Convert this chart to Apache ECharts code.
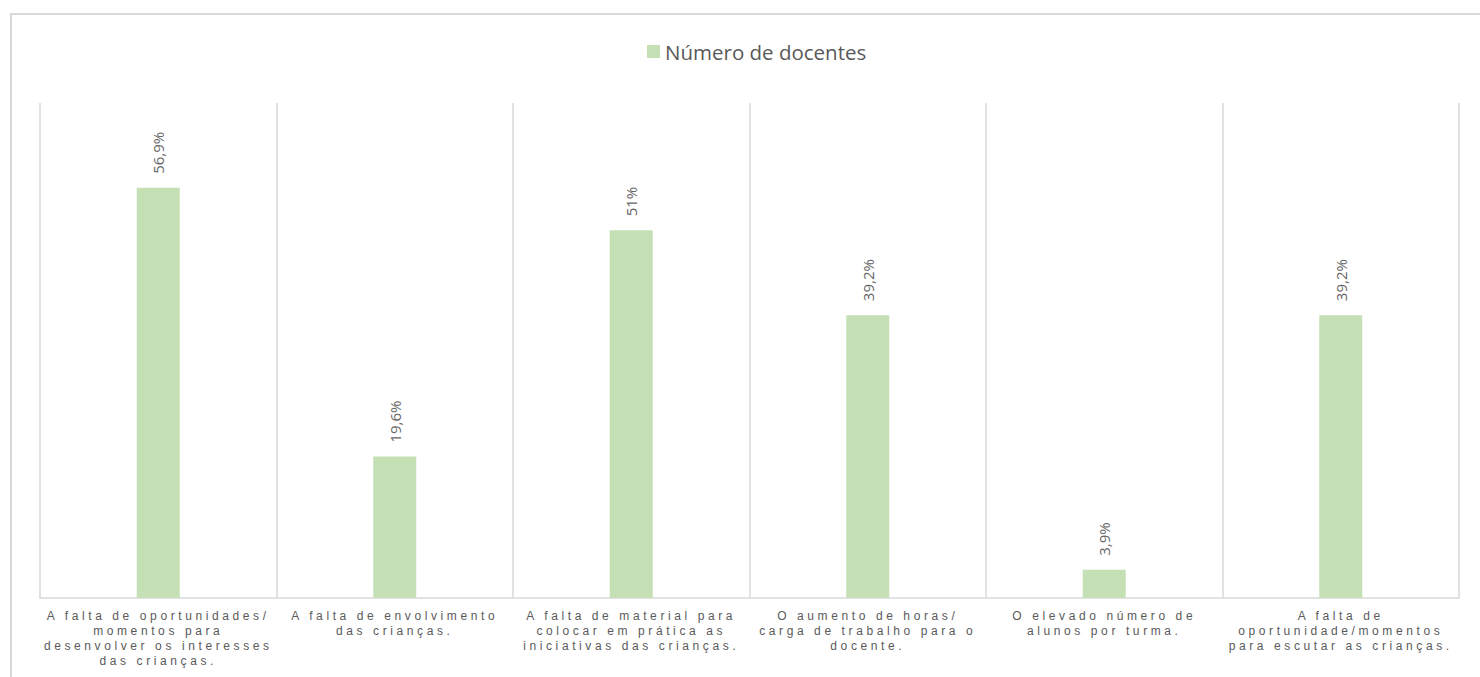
<!DOCTYPE html>
<html>
<head>
<meta charset="utf-8">
<script src="https://cdn.jsdelivr.net/npm/echarts@6/dist/echarts.min.js"></script>
<style>
  html, body { margin: 0; padding: 0; background: #fff; overflow: hidden; }
  .frame {
    position: absolute; left: 10px; top: 13px;
    width: 1500px; height: 700px;
    border: 2px solid #d9d9d9; box-sizing: border-box;
  }
  #chart { position: absolute; left: 0; top: 0; width: 1480px; height: 677px; }
  /* espaçamento entre letras dos rótulos do eixo (como no Excel) */
  #chart text[fill="#5a5a5b"],
  #chart text[fill="rgb(90,90,91)"],
  #chart text[fill="rgb(90, 90, 91)"] { letter-spacing: 3.6px; }
</style>
</head>
<body>
<div class="frame"></div>
<div id="chart"></div>
<script>
  // categorias (quebras de linha como no gráfico original)
  const categorias = [
    'A falta de oportunidades/\nmomentos para\ndesenvolver os interesses\ndas crianças.',
    'A falta de envolvimento\ndas crianças.',
    'A falta de material para\ncolocar em prática as\niniciativas das crianças.',
    'O aumento de horas/\ncarga de trabalho para o\ndocente.',
    'O elevado número de\nalunos por turma.',
    'A falta de\noportunidade/momentos\npara escutar as crianças.'
  ]
  // número de docentes (n = 51)
  const numeroDocentes = [29, 10, 26, 20, 2, 20]
  const rotulosPct = ['56,9%', '19,6%', '51%', '39,2%', '3,9%', '39,2%']

  let myChart = echarts.init(document.getElementById('chart'), null, {renderer: 'svg'})
  let option = {
    animation: false,
    legend: {
      top: 36,
      left: 642,
      icon: 'rect',
      itemWidth: 13,
      itemHeight: 13,
      itemGap: 10,
      textStyle: {
        color: '#595959',
        fontSize: 20.5,
        fontFamily: 'Open Sans',
        padding: [0, 0, 2, 0]
      },
      data: ['Número de docentes']
    },
    grid: {
      left: 40,
      right: 21,
      top: 103,
      bottom: 79
    },
    xAxis: {
      type: 'category',
      data: categorias,
      axisTick: {show: false},
      axisLine: {
        lineStyle: {color: '#d9d9d9', width: 1.5}
      },
      splitLine: {
        show: true,
        lineStyle: {color: '#d9d9d9', width: 1.5}
      },
      axisLabel: {
        interval: 0,
        margin: 10,
        color: '#5a5a5b',
        fontSize: 12,
        lineHeight: 15,
        fontFamily: 'Liberation Sans'
      }
    },
    yAxis: {
      type: 'value',
      min: 0,
      max: 35,
      show: false,
      splitLine: {show: false}
    },
    series: [
      {
        name: 'Número de docentes',
        type: 'bar',
        data: numeroDocentes,
        barWidth: 43,
        itemStyle: {color: '#c5e0b4'},
        label: {
          show: true,
          position: 'top',
          rotate: 90,
          align: 'left',
          verticalAlign: 'middle',
          distance: 14,
          color: '#666666',
          fontSize: 15,
          fontFamily: 'Open Sans',
          formatter: p => rotulosPct[p.dataIndex]
        }
      }
    ]
  }
  myChart.setOption(option)
</script>
</body>
</html>
